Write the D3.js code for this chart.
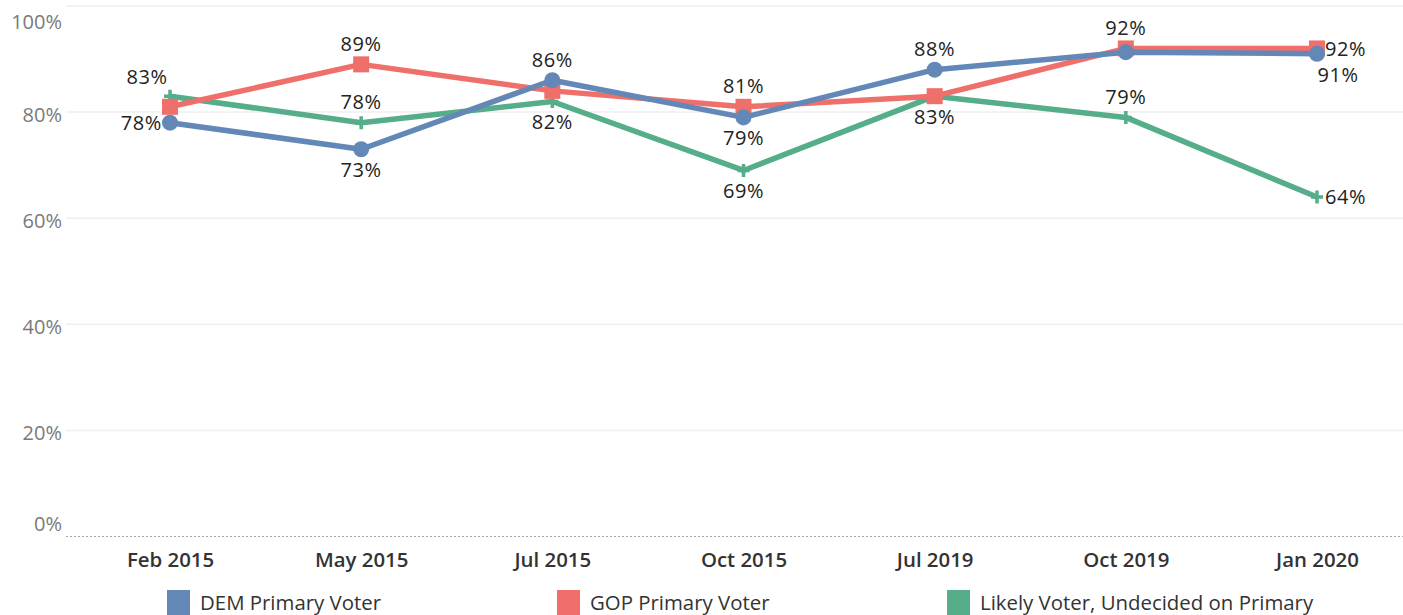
<!DOCTYPE html>
<html>
<head>
<meta charset="utf-8">
<script src="https://cdn.jsdelivr.net/npm/d3@7"></script>
<style>
  html, body { margin: 0; padding: 0; background: #fff; overflow: hidden; }
  svg { display: block; }
</style>
</head>
<body>
<svg id="chart" width="1403" height="615"></svg>
<script>
// Survey waves
const waves = ["Feb 2015", "May 2015", "Jul 2015", "Oct 2015", "Jul 2019", "Oct 2019", "Jan 2020"];

// Share (%) per group and wave
const demValues = [78, 73, 86, 79, 88, 91.3, 91];
const gopValues = [81, 89, 84, 81, 83, 92, 92];
const undecidedValues = [83, 78, 82, 69, 83, 79, 64];

const seriesNames = ["DEM Primary Voter", "GOP Primary Voter", "Likely Voter, Undecided on Primary"];
const yTicks = [0, 20, 40, 60, 80, 100];

// Where each point's value label sits (null = no label)
const demLabelSpots = ["left", "below", "above", "below", "above", null, "belowRight"];
const gopLabelSpots = [null, "above", null, "above", "below", "above", "right"];
const undecidedLabelSpots = ["aboveLeft", "above", "below", "below", null, "above", "right"];

const colors = { dem: "#6388b7", gop: "#ef6f6a", und: "#55ad89" };

const svg = d3.select("#chart");
const plotLeft = 66, plotRight = 1403;
const labelFont = "Open Sans, sans-serif";

const x = d3.scalePoint().domain(waves).range([170, 1317]);
const y = d3.scaleLinear().domain([0, 100]).range([536.5, 6]);

// Horizontal gridlines
svg.append("g").selectAll("line")
  .data(yTicks.filter(d => d > 0))
  .join("line")
  .attr("x1", plotLeft).attr("x2", plotRight)
  .attr("y1", d => y(d)).attr("y2", d => y(d))
  .attr("stroke", "#efefef").attr("stroke-width", 1.5);

// Zero baseline (dotted)
svg.append("line")
  .attr("x1", plotLeft).attr("x2", plotRight)
  .attr("y1", y(0)).attr("y2", y(0))
  .attr("stroke", "#a8a8a8").attr("stroke-width", 1)
  .attr("stroke-dasharray", "2,2");

// Y axis labels
const yAxis = svg.append("g")
  .attr("transform", `translate(${plotLeft},0)`)
  .call(d3.axisLeft(y).tickValues(yTicks).tickSize(0).tickPadding(4).tickFormat(d => d + "%"));
yAxis.select(".domain").remove();
yAxis.selectAll("text")
  .attr("font-family", labelFont)
  .attr("font-size", 20)
  .attr("fill", "#7a7a7a")
  .attr("dy", d => d === 100 ? "1.1em" : d === 0 ? "-0.3em" : "0.45em");

// X axis labels
const xAxis = svg.append("g")
  .attr("transform", `translate(0,${y(0)})`)
  .call(d3.axisBottom(x).tickSize(0).tickPadding(0));
xAxis.select(".domain").remove();
xAxis.selectAll("text")
  .attr("font-family", "Open Sans, sans-serif")
  .attr("font-weight", 600)
  .attr("font-size", 20.4)
  .attr("fill", "#333")
  .attr("dy", null)
  .attr("y", 30);

const series = [
  { key: "und", values: undecidedValues, spots: undecidedLabelSpots, marker: "plus" },
  { key: "gop", values: gopValues, spots: gopLabelSpots, marker: "square" },
  { key: "dem", values: demValues, spots: demLabelSpots, marker: "circle" }
];

const line = d3.line().x((d, i) => x(waves[i])).y(d => y(d));

series.forEach(s => {
  const g = svg.append("g");
  g.append("path")
    .datum(s.values)
    .attr("d", line)
    .attr("fill", "none")
    .attr("stroke", colors[s.key])
    .attr("stroke-width", 5.5)
    .attr("stroke-linejoin", "round");

  const pts = g.selectAll(".pt").data(s.values).join("g")
    .attr("transform", (d, i) => `translate(${x(waves[i])},${y(d)})`);

  if (s.marker === "circle") {
    pts.append("circle").attr("r", 8).attr("fill", colors[s.key]);
  } else if (s.marker === "square") {
    pts.append("rect").attr("x", -8).attr("y", -8).attr("width", 16).attr("height", 16)
      .attr("fill", colors[s.key]);
  } else {
    pts.append("path").attr("d", "M-6,0H6M0,-6.5V6.5")
      .attr("stroke", colors[s.key]).attr("stroke-width", 3.5);
  }
});

// Value labels
const labelG = svg.append("g")
  .attr("font-family", labelFont)
  .attr("font-size", 20)
  .attr("letter-spacing", 0.6)
  .attr("fill", "#222");

series.forEach(s => {
  s.values.forEach((v, i) => {
    const spot = s.spots[i];
    if (!spot) return;
    const px = x(waves[i]), py = y(v);
    let tx = px, ty = py, anchor = "middle", dy = "0";
    if (spot === "above") { ty = py - 13.5; }
    else if (spot === "aboveLeft") { tx = px - 23; ty = py - 12; }
    else if (spot === "below") { ty = py + 28; }
    else if (spot === "belowRight") { tx = px + 21; ty = py + 28; }
    else if (spot === "left") { tx = px - 8; anchor = "end"; dy = "0.36em"; }
    else if (spot === "right") { tx = px + 8; anchor = "start"; dy = "0.36em"; }
    labelG.append("text")
      .attr("x", tx).attr("y", ty).attr("dy", dy)
      .attr("text-anchor", anchor)
      .text(Math.round(v) + "%");
  });
});

// Legend
const legendItems = [
  { name: seriesNames[0], key: "dem", x: 167 },
  { name: seriesNames[1], key: "gop", x: 557 },
  { name: seriesNames[2], key: "und", x: 947 }
];
const leg = svg.append("g");
legendItems.forEach(it => {
  leg.append("rect").attr("x", it.x).attr("y", 590).attr("width", 23).attr("height", 25)
    .attr("fill", colors[it.key]);
  leg.append("text").attr("x", it.x + 33).attr("y", 610)
    .attr("font-family", "Open Sans, sans-serif")
    .attr("font-size", 20.4)
    .attr("fill", "#333")
    .text(it.name);
});
</script>
</body>
</html>
